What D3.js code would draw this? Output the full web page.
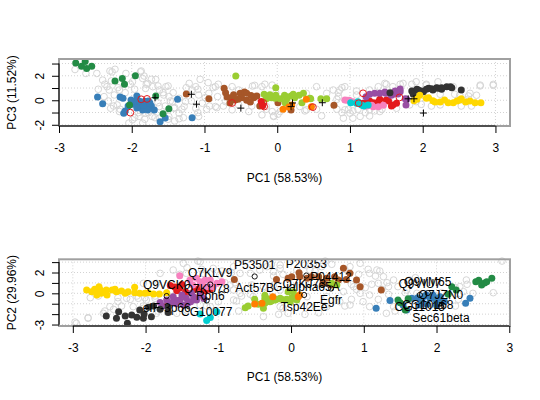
<!DOCTYPE html>
<html><head><meta charset="utf-8">
<script src="https://cdn.jsdelivr.net/npm/d3@7"></script>
<style>body{margin:0;background:#fff}</style>
</head><body><svg id="c" width="540" height="400"></svg>
<script>
// ---------- DATA: top panel (PC1 vs PC3) ----------
const tGreen = [[-2.77,3.05],[-2.69,2.78],[-2.64,3.16],[-2.62,2.59],[-2.55,2.78],[-2.23,1.57],[-2.13,1.78],[-2.10,1.30],[-1.95,2.0],[-2.03,-0.38],[-1.67,0.35],[-1.57,-1.11],[-1.49,-0.70]];
const tBlue = [[-2.47,0.27],[-2.40,-0.28],[-2.16,0.27],[-2.12,0.16],[-2.05,-0.47],[-2.11,-1.06],[-2.09,-0.87],[-1.93,0.35],[-1.91,-0.20],[-1.86,-0.60],[-1.80,-0.33],[-1.73,-0.47],[-1.69,-0.79],[-1.61,-1.75],[-1.37,0.08],[-1.17,-1.42],[-1.98,-0.33],[-1.96,-0.08],[-1.89,-0.08],[-1.82,-0.08],[-1.75,-0.22],[-2.01,0.02],[-1.85,-0.79],[-1.93,-0.63],[-1.54,-1.44],[-1.78,-0.79],[-1.84,-0.40],[-1.77,-0.05]];
const tBrown = [[-1.25,0.51],[-0.94,0.13],[-0.73,0.98],[-0.71,0.62],[-0.69,0.27],[-0.63,0.21],[-0.51,0.57],[-0.49,0.21],[-0.45,0.68],[-0.42,0.57],[-0.42,0.0],[-0.54,0.08],[-0.58,0.02],[-0.32,0.21],[-0.28,0.35],[-0.21,-0.20],[-0.24,-0.47],[0.01,-0.20],[0.19,-0.79],[0.78,-0.41],[-0.65,-0.22],[-0.37,-0.14],[-0.60,0.45],[-0.36,0.40]];
const tYellowGreen = [[-0.57,1.98],[-0.02,1.03],[-0.18,0.49],[-0.15,0.13],[-0.08,0.21],[-0.02,0.41],[0.04,0.13],[0.10,0.41],[0.13,0.08],[0.19,0.35],[0.24,0.21],[0.30,0.41],[0.36,0.57],[0.34,-0.20],[0.46,0.13],[0.60,0.13],[0.68,0.13],[0.11,-0.20],[0.22,0.49],[0.13,0.29],[-0.03,0.16],[0.45,0.16],[-0.10,0.45]];
const tOrange = [[0.08,-0.73],[0.20,-0.38],[0.47,-0.52],[0.40,0.08],[0.16,-0.55]];
const tRed = [[-0.22,-0.10],[-0.20,-0.45],[1.18,-0.24],[1.32,-0.20],[1.59,-0.38],[1.64,-0.24],[1.50,0.03],[1.39,-0.11],[1.41,0.08],[1.57,-0.47],[1.53,-0.06],[1.27,-0.06],[1.23,-0.24]];
const tPink = [[0.96,0.0],[1.04,-0.11],[1.32,-0.52],[1.39,-0.52],[1.46,-0.41],[1.25,-0.44],[1.23,-0.47],[0.93,0.03],[0.99,0.0],[1.30,-0.40]];
const tCyan = [[1.01,-0.20],[1.09,-0.24],[1.16,-0.38],[1.25,-0.38],[1.11,-0.11],[1.19,-0.47]];
const tPurple = [[1.22,0.29],[1.34,0.57],[1.41,0.57],[1.49,0.57],[1.56,0.51],[1.59,0.49],[1.69,0.92],[1.66,0.51],[1.77,-0.38],[1.78,0.08],[1.48,0.68],[1.62,0.76],[1.76,0.13],[1.57,0.41],[1.27,0.50],[1.69,0.70]];
const tDark = [[1.87,0.70],[1.94,0.84],[2.01,0.70],[2.08,0.98],[2.14,0.84],[2.21,0.98],[2.26,0.90],[2.33,1.11],[2.38,1.11],[2.53,0.84],[1.55,0.62],[1.85,0.76],[1.92,0.90],[2.05,0.90],[2.12,0.95],[2.19,1.03],[2.26,1.03],[2.40,1.03],[1.98,0.76],[1.87,0.49]];
const tYellow = [[1.96,0.41],[1.92,0.08],[2.17,-0.14],[2.08,0.21],[2.30,0.02],[2.35,-0.20],[2.42,-0.20],[2.47,-0.06],[2.53,0.13],[2.59,-0.14],[2.65,-0.06],[2.72,-0.20],[2.80,-0.20],[2.24,-0.14],[1.88,-0.03],[2.14,-0.03],[2.05,0.16],[2.51,0.02]];
const tRings = [[-2.02,-1.01],[-1.87,0.08],[-1.79,0.11],[-0.62,-0.22],[-0.19,-0.22],[-0.18,-0.51],[0.49,-0.56],[1.12,-0.24],[1.18,0.57],[1.68,0.23]];
const tPlus = [[-1.68,0.21],[-1.18,0.49],[-1.11,-0.32],[-0.50,-0.64],[0.21,-0.22],[0.19,-0.52],[0.62,-0.20],[1.80,0.12],[1.88,0.12],[2.01,-1.04]];
const tUnknown = [[-2.78,2.51],[-2.63,2.19],[-2.48,2.19],[-2.40,1.65],[-2.34,1.11],[-2.27,2.32],[-2.31,0.84],[-2.38,0.30],[-2.24,0.43],[-2.17,0.84],[-2.08,2.19],[-1.99,1.51],[-1.88,2.32],[-1.85,1.78],[-1.78,1.38],[-1.81,0.97],[-1.71,1.11],[-1.67,1.70],[-1.62,0.84],[-1.56,0.43],[-1.53,1.11],[-1.49,0.30],[-1.44,-0.11],[-1.42,-0.65],[-1.35,-1.05],[-1.35,-1.51],[-1.28,-0.51],[-1.21,1.38],[-1.17,0.84],[-1.12,1.11],[-1.08,0.43],[-1.03,-0.24],[-0.94,0.57],[-0.85,1.11],[-0.82,0.30],[-0.71,-0.11],[-0.62,1.11],[-0.53,0.84],[-0.34,1.16],[-0.21,1.11],[-0.07,1.24],[-0.02,0.57],[-1.99,-1.59],[-1.90,-1.32],[-1.81,-1.05],[-1.72,-1.32],[-1.49,-1.32],[-1.35,0.16],[-1.26,-0.11],[-1.62,-0.51],[-2.20,-0.38],[-2.29,-0.65],[-2.17,-0.92],[-2.04,-1.86],[-1.85,-1.86],[-1.62,-1.46],[-1.08,-1.32],[-1.12,-0.65],[-0.85,-0.51],[-0.62,-0.78],[-0.53,-0.38],[-0.39,-0.92],[-0.21,-1.19],[-0.07,-0.92],
[-0.05,-1.32],[0.04,-0.92],[-0.15,-0.51],[0.40,-0.78],[0.61,-1.27],[0.54,1.11],[0.77,0.84],[0.86,0.84],[0.93,1.11],[0.84,0.30],[0.93,-0.78],[1.00,-1.05],[0.91,-1.46],[1.04,-1.46],[1.14,-1.32],[1.27,-0.78],[1.41,-0.92],[1.48,1.38],[1.59,1.11],[1.39,1.11],[1.27,0.84],[1.73,1.38],[1.91,1.51],[2.05,1.24],[2.21,1.51],[2.42,1.11],[2.79,1.24],[2.97,1.30],[2.65,0.57],[2.24,-0.38],[1.82,-0.38],[1.64,-0.65],[1.09,0.43],[0.68,0.57],[0.40,0.57],[0.31,-0.51],[2.51,0.43],[2.60,0.03],[1.91,-0.11],
[-2.30,2.39],[-2.23,2.53],[-2.46,0.90],[-2.37,1.31],[-2.28,1.58],[-2.19,1.03],[-2.09,0.62],[-2.02,1.31],[-1.96,0.90],[-1.87,2.39],[-1.83,1.98],[-1.80,1.31],[-1.73,1.71],[-1.64,1.17],[-1.57,0.62],[-1.50,1.17],[-1.43,0.62],[-1.47,-0.06],[-1.41,-0.60],[-1.54,-0.47],[-1.64,-0.20],[-1.31,-0.73],[-1.29,-1.42],[-1.41,-1.69],[-1.50,-1.55],[-1.68,-1.42],[-1.82,-1.55],[-1.96,-1.42],[-1.91,-1.01],[-1.77,-1.01],[-2.16,-0.73],[-2.25,-0.47],[-2.32,-0.06],[-1.25,1.03],[-1.18,-0.06],[-1.09,0.90],[-0.99,0.21],[-0.97,-0.73],[-1.09,-1.01],[-1.06,1.71],
[-0.95,1.44],[-0.88,1.03],[-0.81,1.31],[-0.93,-0.47],[-0.83,-0.60],[-0.74,-0.47],[-0.31,1.22],[-0.17,1.31],[-0.35,-0.47],[-0.15,-0.73],[-0.05,-1.28],[0.01,-1.14],[0.38,-0.87],[0.54,-0.73],[0.82,0.08],[0.84,0.62],[0.89,1.03],[0.82,-0.73],[0.89,-1.01],[0.98,-0.73],[1.04,-0.87],
[1.09,0.76],[1.11,-0.73],[1.21,-1.01],[1.27,-1.28],[1.34,-0.87],[1.44,-0.73],[1.50,1.31],[1.69,1.31],[1.85,1.31],[2.05,1.31],[2.24,0.49],[2.44,0.49],[2.63,0.35],[2.74,0.41],[2.79,1.17],[2.97,1.22],[2.67,-0.47],[2.53,-0.47],[2.12,-0.47],[1.98,-0.33]];

// ---------- DATA: bottom panel (PC1 vs PC2) ----------
const bYellow = [[-2.81,0.32],[-2.74,0.16],[-2.70,0.38],[-2.67,-0.16],[-2.63,0.38],[-2.58,0.16],[-2.54,0.32],[-2.53,-0.16],[-2.46,0.32],[-2.42,0.38],[-2.40,0.16],[-2.33,0.22],[-2.28,0.0],[-2.24,0.16],[-2.15,0.58],[-2.15,0.06],[-2.08,0.0],[-2.01,0.0],[-1.96,0.06],[-1.89,-0.06],[-1.81,-0.06],[-1.71,0.06],[-2.64,0.64],[-2.61,0.0]];
const bDark = [[-2.54,-2.17],[-2.40,-2.40],[-2.37,-1.76],[-2.28,-2.17],[-2.25,-2.88],[-2.19,-2.08],[-2.12,-2.30],[-2.03,-2.40],[-2.02,-1.98],[-1.96,-1.34],[-1.89,-1.21],[-1.80,-1.53],[-1.69,-1.34],[-1.69,-1.85],[-1.92,-2.24],[-2.08,-1.60]];
const bPurple = [[-1.80,-0.89],[-1.76,-1.21],[-1.71,-0.64],[-1.64,-0.89],[-1.57,-0.70],[-1.53,-0.64],[-1.48,-1.12],[-1.44,-0.48],[-1.38,-0.80],[-1.34,-0.32],[-1.30,-0.64],[-1.25,-0.16],[-1.37,0.0],[-1.62,-0.32],[-1.50,-0.16],[-1.20,-0.50],[-1.58,-1.00],[-1.42,-0.95]];
const bRed = [[-1.66,0.75],[-1.60,0.60],[-1.53,0.50],[-1.50,0.85],[-1.32,0.40],[-1.25,0.55],[-1.18,0.22],[-1.11,0.38],[-1.57,0.25],[-1.45,0.15]];
const bPink = [[-1.53,1.69],[-1.39,1.28],[-1.30,1.44],[-1.25,1.12],[-1.18,1.28],[-1.11,1.28],[-1.02,0.96],[-0.95,1.12],[-1.21,0.70],[-1.14,0.64],[-1.07,0.64],[-1.35,0.80]];
const bCyan = [[-1.25,-1.98],[-1.16,-2.62],[-1.11,-2.33],[-1.02,-1.76]];
const bBrown = [[-0.78,1.34],[-0.20,1.34],[0.11,1.98],[0.72,2.40],[0.60,1.60],[0.49,1.44],[0.38,1.60],[0.28,1.60],[0.22,1.44],[0.12,1.60],[0.01,1.60],[-0.04,1.44],[0.44,0.96],[0.54,0.80],[0.65,1.28],[0.76,1.34],[0.90,1.28],[0.95,0.64],[1.24,0.32],[0.81,1.92]];
const bYellowGreen = [[-0.36,-0.48],[-0.29,-0.80],[-0.22,-0.64],[-0.15,-0.48],[-0.08,-0.64],[-0.01,-0.80],[0.03,-0.48],[0.08,-0.64],[-0.36,-0.96],[-0.04,0.16],[0.03,0.16],[0.56,0.96],[-0.50,-0.58],[-0.45,-1.06],[-0.38,-0.90],[-0.33,-0.52],[-0.27,-0.74],[-0.20,-0.58],[-0.13,-0.58],[-0.06,-0.58],[0.01,-0.42],[0.06,-0.26],[-0.63,-1.38],[-0.59,-1.22],[-0.36,-0.19],[0.63,0.80],[-0.38,-1.44]];
const bOrange = [[-0.50,-1.02],[-0.40,-0.96],[0.12,-0.16],[0.10,-0.33],[-0.25,-0.33]];
const bBlue = [[1.17,-1.44],[1.36,-0.70],[1.54,-1.12],[1.66,-0.48],[1.77,-1.12],[1.86,-0.16],[1.91,-0.48],[1.95,-0.16],[2.0,-0.80],[2.05,-0.32],[2.11,-0.80],[2.40,-0.96],[2.46,-0.48],[1.59,-1.60],[1.74,-0.42],[1.80,-0.58],[1.84,-0.26],[1.98,-0.42],[2.05,-0.74],[2.00,-1.15],[1.87,-1.06]];
const bGreen = [[1.47,-0.64],[1.57,-1.60],[1.61,-0.52],[2.21,0.64],[2.27,0.32],[2.16,-0.10],[2.54,1.12],[2.62,0.80],[2.66,1.0],[2.69,1.12],[2.76,1.44],[2.58,1.25],[1.50,-0.90]];
const bUnknown = [[-2.95,-2.88],[-2.79,-2.40],[-2.58,-1.92],[-2.49,-1.28],[-2.38,-0.80],[-2.26,-0.48],[-2.10,-0.48],[-1.99,-0.64],[-1.87,-0.48],[-2.17,-1.28],[-2.03,-1.44],[-1.85,-1.92],[-1.57,-1.92],[-1.44,-1.60],[-1.25,-1.12],[-1.11,-1.28],[-1.00,-0.80],[-0.79,-0.64],[-0.70,0.0],[-0.79,0.32],[-0.84,0.80],[-0.98,1.76],[-1.25,3.04],[-1.07,2.40],[-0.79,2.56],[-0.70,1.92],[-0.56,1.92],[-0.43,2.24],[-0.33,2.56],[-0.24,2.08],[-0.15,2.40],[-0.54,0.80],[-0.38,0.64],[-0.24,0.80],[-0.52,-0.32],[-0.33,0.0],[-0.15,0.32],[-1.48,2.88],[-1.62,2.24],[-1.80,1.92],[-1.85,0.96],[-2.03,0.96],[-1.44,1.92],[-1.21,1.92],[-0.11,-1.44],[-0.38,-2.24],
[-0.15,2.72],[0.08,2.24],[0.19,2.72],[0.26,2.24],[0.31,2.88],[0.42,2.56],[0.81,2.56],[0.95,2.88],[1.08,1.92],[1.18,2.24],[1.20,0.96],[1.27,1.60],[1.34,0.64],[1.41,1.28],[1.47,0.64],[1.59,0.32],[1.63,1.28],[1.73,0.0],[2.32,0.64],[2.37,0.16],[2.41,1.28],[2.50,0.0],[1.08,-0.16],[0.99,-0.80],[1.08,-1.28],[1.41,-1.28],[1.31,-1.92],[0.81,-1.12],[0.67,-0.80],[0.49,-1.28],[0.26,-1.28],[-0.04,-1.92],[-0.15,-1.28],[0.22,-0.32],[0.49,-0.32],[0.72,0.16],[0.86,0.64],[0.95,0.0],[2.14,-0.48],
[-2.97,-2.76],[-2.79,-2.34],[-2.76,-0.42],[-2.65,-0.26],[-2.56,-1.70],[-2.44,-1.54],[-2.38,-0.42],[-2.33,-1.22],[-2.21,-0.58],[-2.12,-0.26],[-2.01,-0.42],[-2.03,-1.22],[-1.87,-0.26],[-1.83,-1.70],[-1.66,0.22],[-1.53,1.83],[-1.43,2.46],[-1.28,3.1],[-1.23,2.31],[-1.41,0.54],[-1.16,1.18],[-1.14,-0.26],[-1.16,-1.22],
[-0.95,2.14],[-0.82,1.98],[-0.91,1.02],[-0.77,1.02],[-0.27,2.79],[-0.24,1.66],[-0.11,1.83],[0.33,2.14],[0.47,3.1],[0.56,2.79],[0.74,2.31],[0.83,0.87],[0.90,0.38],[0.83,-0.58],[0.74,-1.22],[0.47,-1.22],[0.38,-1.87],[0.19,-2.02],[-0.17,-2.02],[-0.72,-1.70],[-0.68,-0.26],[-0.75,-0.74],[-0.56,-0.1],
[0.93,1.83],[1.06,2.31],[1.16,1.66],[1.22,2.14],[1.11,0.87],[1.02,0.54],[1.25,0.38],[1.32,1.02],[1.34,-0.10],[1.20,-0.58],[1.57,0.06],[2.07,0.06],[2.26,0.54],[2.42,0.87],[2.30,-0.58],[2.26,-1.22],[1.43,-1.70],[2.78,0.06],[2.90,3.1],[1.71,1.50]];

// features of interest, bottom panel
const foiPts = [[-1.71,-0.26],[-1.11,0.85],[-1.16,-0.69],[-0.50,1.62],[0.21,1.71],[0.55,0.46],[0.18,-0.16],[1.88,0.03],[1.77,-0.16],[2.06,-1.22]];
const foiAcc = ["Q9VCK0","Q7KLV9","Q7KU78","P53501","P20353","P04412","Q7KJ73","Q9VM65","Q9VIU7","Q7JZN0"];
const foiSym = ["eIF-3p66","Rpn6","CG10077","Act57B","G-ialpha65A","Egfr","Tsp42Ee","CG10168","CG11015","Sec61beta"];

// axes
const xTicks = [-3,-2,-1,0,1,2,3];
const xTickLabels = ["-3","-2","-1","0","1","2","3"];
const topYTicks = [-2,-1,0,1,2,3];
const topYTickLabels = ["-2","","0","","2",""];
const botYTicks = [-3,-2,-1,0,1,2,3];
const botYTickLabels = ["-3","","","0","","2",""];
const xTitle = "PC1 (58.53%)";
const topYTitle = "PC3 (11.52%)";
const botYTitle = "PC2 (29.96%)";

// ---------- styles ----------
const col = {green:"#238B45", blue:"#377EB8", red:"#E41A1C", orange:"#FF7F00", yellow:"#FFD700",
  dark:"#333333", cyan:"#00CED1", brown:"#A65628", pink:"#F781BF", purple:"#984EA3", yg:"#9ACD32"};
const FONT = "'Liberation Sans', Arial, Helvetica, sans-serif";
const svg = d3.select("#c");
const L = 59, R = 510;

function panel(cfg) {
  const x = d3.scaleLinear().domain(cfg.xd).range([L, R]);
  const y = d3.scaleLinear().domain(cfg.yd).range([cfg.bot, cfg.top]);
  const g = svg.append("g");
  // grid
  g.selectAll(".gx").data(xTicks).enter().append("line")
    .attr("x1", d => x(d)).attr("x2", d => x(d)).attr("y1", cfg.top).attr("y2", cfg.bot)
    .attr("stroke", "#D3D3D3").attr("stroke-dasharray", "1,2");
  g.selectAll(".gy").data(cfg.yTicks).enter().append("line")
    .attr("y1", d => y(d)).attr("y2", d => y(d)).attr("x1", L).attr("x2", R)
    .attr("stroke", "#D3D3D3").attr("stroke-dasharray", "1,2");
  const clip = g.append("g");
  // unknowns
  clip.selectAll(".u").data(cfg.unknown).enter().append("circle")
    .attr("cx", d => x(d[0])).attr("cy", d => y(d[1])).attr("r", 3.3)
    .attr("fill", "none").attr("stroke", "#D6D6D6").attr("stroke-width", 1);
  // classes
  cfg.classes.forEach(([data, c]) => {
    clip.selectAll(null).data(data).enter().append("circle")
      .attr("cx", d => x(d[0])).attr("cy", d => y(d[1])).attr("r", 3.5).attr("fill", c);
  });
  if (cfg.rings) clip.selectAll(null).data(cfg.rings).enter().append("circle")
      .attr("cx", d => x(d[0])).attr("cy", d => y(d[1])).attr("r", 3.4)
      .attr("fill", "none").attr("stroke", col.red).attr("stroke-width", 1);
  if (cfg.plus) clip.selectAll(null).data(cfg.plus).enter().append("path")
      .attr("d", d => `M${x(d[0])-3.5},${y(d[1])}h7M${x(d[0])},${y(d[1])-3.5}v7`)
      .attr("stroke", "#000").attr("stroke-width", 1);
  if (cfg.foi) {
    clip.selectAll(null).data(cfg.foi).enter().append("circle")
      .attr("cx", d => x(d[0])).attr("cy", d => y(d[1])).attr("r", 2.6)
      .attr("fill", "none").attr("stroke", "#000").attr("stroke-width", 0.9);
    const t = clip.append("g").attr("font-family", FONT).attr("font-size", 12).attr("text-anchor", "middle");
    t.selectAll(null).data(cfg.foi).enter().append("text")
      .attr("x", d => x(d[0])).attr("y", d => y(d[1]) - 11.5 + 4.3).text((d, i) => foiAcc[i]);
    t.selectAll(null).data(cfg.foi).enter().append("text")
      .attr("x", d => x(d[0])).attr("y", d => y(d[1]) + 11.5 + 4.3).text((d, i) => foiSym[i]);
  }
  // box
  g.append("rect").attr("x", L).attr("y", cfg.top).attr("width", R - L).attr("height", cfg.bot - cfg.top)
    .attr("fill", "none").attr("stroke", "#A0A0A0").attr("stroke-width", 2);
  // x axis
  const xa = g.append("g").attr("transform", `translate(0,${cfg.bot})`)
    .call(d3.axisBottom(x).tickValues(xTicks).tickSize(7).tickSizeOuter(0).tickFormat((d, i) => xTickLabels[i]));
  xa.select(".domain").remove();
  xa.append("line").attr("x1", x(xTicks[0])).attr("x2", x(xTicks[xTicks.length - 1])).attr("stroke", "#000");
  xa.selectAll(".tick line").attr("stroke", "#000");
  xa.selectAll("text").attr("y", 26.3).attr("dy", null).attr("fill", "#000")
    .attr("font-family", FONT).attr("font-size", 12);
  // y axis
  const ya = g.append("g").attr("transform", `translate(${L},0)`)
    .call(d3.axisLeft(y).tickValues(cfg.yTicks).tickSize(7).tickSizeOuter(0).tickFormat((d, i) => cfg.yLabels[i]));
  ya.select(".domain").remove();
  ya.append("line").attr("y1", y(cfg.yTicks[0])).attr("y2", y(cfg.yTicks[cfg.yTicks.length - 1])).attr("stroke", "#000");
  ya.selectAll(".tick line").attr("stroke", "#000");
  ya.selectAll("text").attr("transform", "rotate(-90)").attr("x", 0).attr("y", -(L - 43.6))
    .attr("dy", null).attr("text-anchor", "middle").attr("fill", "#000")
    .attr("font-family", FONT).attr("font-size", 12);
  // titles
  svg.append("text").attr("x", (L + R) / 2).attr("y", cfg.xTitleY).attr("text-anchor", "middle")
    .attr("font-family", FONT).attr("font-size", 12).text(xTitle);
  svg.append("text").attr("transform", `translate(16.3,${(cfg.top + cfg.bot) / 2}) rotate(-90)`)
    .attr("text-anchor", "middle").attr("font-family", FONT).attr("font-size", 12).text(cfg.yTitle);
}

panel({xd:[-3.0,3.2], yd:[-2.1,3.37], top:59, bot:126, yTicks:topYTicks, yLabels:topYTickLabels,
  unknown:tUnknown, xTitleY:182.3, yTitle:topYTitle,
  classes:[[tBrown,col.brown],[tYellowGreen,col.yg],[tOrange,col.orange],[tRed,col.red],[tPink,col.pink],
    [tCyan,col.cyan],[tPurple,col.purple],[tDark,col.dark],[tYellow,col.yellow],[tBlue,col.blue],[tGreen,col.green]],
  rings:tRings, plus:tPlus});

panel({xd:[-3.19,3.01], yd:[-3.14,3.27], top:259.3, bot:326, yTicks:botYTicks, yLabels:botYTickLabels,
  unknown:bUnknown, xTitleY:381, yTitle:botYTitle,
  classes:[[bBrown,col.brown],[bYellowGreen,col.yg],[bOrange,col.orange],[bRed,col.red],[bPink,col.pink],
    [bCyan,col.cyan],[bPurple,col.purple],[bDark,col.dark],[bYellow,col.yellow],[bBlue,col.blue],[bGreen,col.green]],
  foi:foiPts});
</script></body></html>
